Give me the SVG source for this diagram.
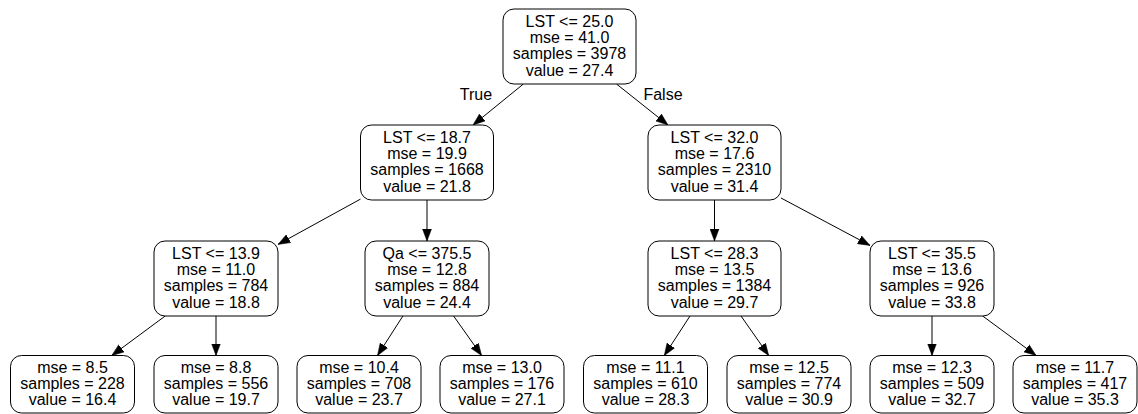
<svg xmlns="http://www.w3.org/2000/svg" width="1138" height="414" viewBox="0 0 1138 414">
<style>
.box{fill:#fff;stroke:#000;stroke-width:1}
text{font-family:"Liberation Sans",Arial,sans-serif;font-size:16px;fill:#000;text-anchor:middle}
.edge{stroke:#000;stroke-width:1;fill:none;marker-end:url(#arrow)}
</style>
<defs>
<marker id="arrow" markerUnits="userSpaceOnUse" markerWidth="12" markerHeight="10" refX="12" refY="5" orient="auto" viewBox="0 0 12 10">
<path d="M0,0.5 L12,5 L0,9.5 z" fill="#000" stroke="#000" stroke-width="0.5"/>
</marker>
</defs>
<rect width="1138" height="414" fill="#fff"/>
<g id="connectors">
<line class="edge" x1="523.4" y1="84" x2="473" y2="125"/>
<line class="edge" x1="616.5" y1="84" x2="668" y2="125"/>
<line class="edge" x1="360.5" y1="199.1" x2="278" y2="244.4"/>
<line class="edge" x1="427" y1="200" x2="427" y2="241"/>
<line class="edge" x1="714.5" y1="200" x2="714.5" y2="241"/>
<line class="edge" x1="781" y1="198" x2="870" y2="245.4"/>
<line class="edge" x1="165.2" y1="316" x2="111.8" y2="355.5"/>
<line class="edge" x1="216" y1="316" x2="216" y2="355.5"/>
<line class="edge" x1="402.9" y1="316" x2="377.5" y2="355.5"/>
<line class="edge" x1="453.6" y1="316" x2="481.6" y2="355.5"/>
<line class="edge" x1="690" y1="316" x2="664.3" y2="355.5"/>
<line class="edge" x1="741" y1="316" x2="768.7" y2="355.5"/>
<line class="edge" x1="932" y1="316" x2="932" y2="355.5"/>
<line class="edge" x1="982.7" y1="316" x2="1036.1" y2="355.5"/>
<text x="476" y="100">True</text>
<text x="663" y="100">False</text>
</g>
<g id="n0"><rect class="box" x="503" y="9" width="133" height="75" rx="11"/>
<text x="569.5" y="26.5">LST &lt;= 25.0</text><text x="569.5" y="42.8">mse = 41.0</text><text x="569.5" y="59.1">samples = 3978</text><text x="569.5" y="75.5">value = 27.4</text></g>
<g id="n1"><rect class="box" x="360.5" y="125" width="133" height="75" rx="11"/>
<text x="427" y="142.5">LST &lt;= 18.7</text><text x="427" y="158.8">mse = 19.9</text><text x="427" y="175.1">samples = 1668</text><text x="427" y="191.5">value = 21.8</text></g>
<g id="n2"><rect class="box" x="648" y="125" width="133" height="75" rx="11"/>
<text x="714.5" y="142.5">LST &lt;= 32.0</text><text x="714.5" y="158.8">mse = 17.6</text><text x="714.5" y="175.1">samples = 2310</text><text x="714.5" y="191.5">value = 31.4</text></g>
<g id="n3"><rect class="box" x="154" y="241" width="124" height="75" rx="11"/>
<text x="216" y="258.5">LST &lt;= 13.9</text><text x="216" y="274.8">mse = 11.0</text><text x="216" y="291.1">samples = 784</text><text x="216" y="307.5">value = 18.8</text></g>
<g id="n4"><rect class="box" x="365" y="241" width="124" height="75" rx="11"/>
<text x="427" y="258.5">Qa &lt;= 375.5</text><text x="427" y="274.8">mse = 12.8</text><text x="427" y="291.1">samples = 884</text><text x="427" y="307.5">value = 24.4</text></g>
<g id="n5"><rect class="box" x="648" y="241" width="133" height="75" rx="11"/>
<text x="714.5" y="258.5">LST &lt;= 28.3</text><text x="714.5" y="274.8">mse = 13.5</text><text x="714.5" y="291.1">samples = 1384</text><text x="714.5" y="307.5">value = 29.7</text></g>
<g id="n6"><rect class="box" x="870" y="241" width="124" height="75" rx="11"/>
<text x="932" y="258.5">LST &lt;= 35.5</text><text x="932" y="274.8">mse = 13.6</text><text x="932" y="291.1">samples = 926</text><text x="932" y="307.5">value = 33.8</text></g>
<g id="n7"><rect class="box" x="10.5" y="355.5" width="124" height="57.5" rx="11"/>
<text x="72.5" y="372.5">mse = 8.5</text><text x="72.5" y="388.8">samples = 228</text><text x="72.5" y="405.1">value = 16.4</text></g>
<g id="n8"><rect class="box" x="154" y="355.5" width="124" height="57.5" rx="11"/>
<text x="216" y="372.5">mse = 8.8</text><text x="216" y="388.8">samples = 556</text><text x="216" y="405.1">value = 19.7</text></g>
<g id="n9"><rect class="box" x="297" y="355.5" width="124" height="57.5" rx="11"/>
<text x="359" y="372.5">mse = 10.4</text><text x="359" y="388.8">samples = 708</text><text x="359" y="405.1">value = 23.7</text></g>
<g id="n10"><rect class="box" x="440" y="355.5" width="124" height="57.5" rx="11"/>
<text x="502" y="372.5">mse = 13.0</text><text x="502" y="388.8">samples = 176</text><text x="502" y="405.1">value = 27.1</text></g>
<g id="n11"><rect class="box" x="583.5" y="355.5" width="124" height="57.5" rx="11"/>
<text x="645.5" y="372.5">mse = 11.1</text><text x="645.5" y="388.8">samples = 610</text><text x="645.5" y="405.1">value = 28.3</text></g>
<g id="n12"><rect class="box" x="727" y="355.5" width="124" height="57.5" rx="11"/>
<text x="789" y="372.5">mse = 12.5</text><text x="789" y="388.8">samples = 774</text><text x="789" y="405.1">value = 30.9</text></g>
<g id="n13"><rect class="box" x="870" y="355.5" width="124" height="57.5" rx="11"/>
<text x="932" y="372.5">mse = 12.3</text><text x="932" y="388.8">samples = 509</text><text x="932" y="405.1">value = 32.7</text></g>
<g id="n14"><rect class="box" x="1013" y="355.5" width="124" height="57.5" rx="11"/>
<text x="1075" y="372.5">mse = 11.7</text><text x="1075" y="388.8">samples = 417</text><text x="1075" y="405.1">value = 35.3</text></g>
</svg>
